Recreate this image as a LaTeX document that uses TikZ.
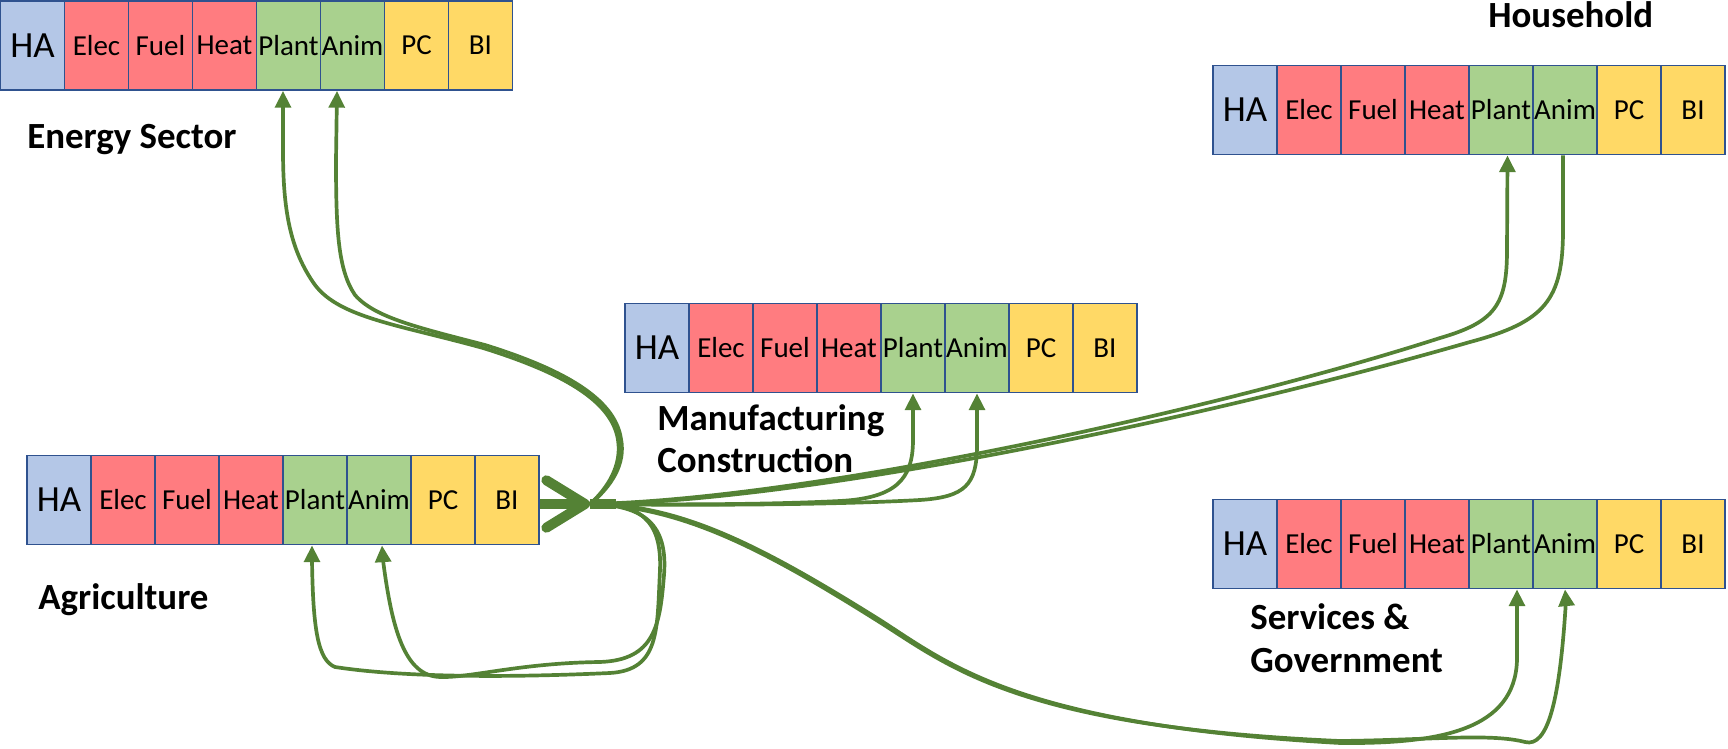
\documentclass[tikz,border=0pt]{standalone}
\usepackage{fontspec}
\setmainfont{Carlito}
\usepackage{tikz}
\usetikzlibrary{arrows.meta}
\definecolor{haBlue}{HTML}{B4C7E7}
\definecolor{enRed}{HTML}{FF7C80}
\definecolor{bioGreen}{HTML}{A9D18E}
\definecolor{resYellow}{HTML}{FFD966}
\definecolor{cellEdge}{HTML}{2F528F}
\definecolor{flowGreen}{HTML}{548235}

% one row of eight cells, #1 prefix, #2 left edge, #3 middle
\newcommand{\sectorrow}[3]{%
  \foreach \cn/\cs [count=\i from 0] in {HA/hacell,Elec/encell,Fuel/encell,Heat/encell,Plant/biocell,Anim/biocell,PC/rescell,BI/rescell}
    \node[\cs] (#1\cn) at ({#2+32+64*\i},#3) {\cn};
}

\begin{document}
\begin{tikzpicture}[x=0.02cm, y=-0.02cm,
    cell/.style={draw=cellEdge, line width=1.1pt, minimum width=1.28cm, minimum height=1.78cm,
      inner sep=0pt, font=\fontsize{16.5}{17}\selectfont},
    hacell/.style={cell, fill=haBlue, font=\fontsize{21}{22}\selectfont},
    encell/.style={cell, fill=enRed},
    biocell/.style={cell, fill=bioGreen},
    rescell/.style={cell, fill=resYellow},
    sector/.style={font=\bfseries\fontsize{21}{24}\selectfont, inner sep=0pt, align=left},
    flowline/.style={flowGreen, line width=2.1pt},
    flow/.style={flowline, -{Triangle[length=9.5pt,width=9pt]}}]
        \useasboundingbox (0,0) rectangle (1728,749);
        % Energy sector
        \sectorrow{ener}{0.5}{45.5}
        \node[sector, anchor=base west] (enerName) at (27,149) {Energy Sector};
        % Household
        \sectorrow{house}{1213}{110}
        \node[sector, anchor=base west] (houseName) at (1488,28) {Household};
        % Manufacturing
        \sectorrow{manu}{625}{348}
        \node[sector, anchor=base west] (manuName) at (657,473) {Manufacturing\\Construction};
        % Agriculture
        \sectorrow{agri}{27}{500}
        \node[sector, anchor=base west] (agriName) at (38,610) {Agriculture};
        % Services
        \sectorrow{serv}{1213}{544}
        \node[sector, anchor=base west] (servName) at (1250,672) {Services \&\\Government};

        % big arrow out of agriculture
        \coordinate (hub) at (590,504);
        \coordinate (fan) at (616,504);
        \draw[flowGreen, line width=5.7pt, -{Straight Barb[length=22pt,width=27pt,round]}] (agriBI.east |- hub) -- (hub);
        \draw[flowGreen, line width=5.7pt] (hub) -- (fan);

        % to energy sector
        \draw[flow] (hub) .. controls (608,488) and (622,465) .. (618,440) .. controls (612,400) and (560,372) .. (483,348)
            .. controls (400,325) and (340,318) .. (315,285) .. controls (290,250) and (283,210) .. (283,150) -- ([xshift=-0.11cm]enerPlant.south);
        \draw[flow] (hub) .. controls (611,487) and (626,464) .. (621,439) .. controls (615,398) and (562,369) .. (485,345)
            .. controls (420,328) and (375,318) .. (355,295) .. controls (338,270) and (336,230) .. (336,160) -- ([xshift=-0.31cm]enerAnim.south);
        % to manufacturing
        \draw[flow] (hub) .. controls (700,505) and (780,504) .. (840,501) .. controls (895,498) and (913,480) .. (913,440) -- (manuPlant.south);
        \draw[flow] (hub) .. controls (720,506) and (850,504) .. (920,500) .. controls (965,497) and (977,485) .. (977,445) -- (manuAnim.south);
        % to household
        \draw[flow] (hub) .. controls (800,500) and (1200,415) .. (1440,338) .. controls (1495,322) and (1507,305) .. (1507,250) -- ([xshift=0.13cm]housePlant.south);
        \draw[flowline] (hub) .. controls (800,503) and (1200,420) .. (1470,342) .. controls (1545,322) and (1563,300) .. (1563,230) -- ([xshift=-0.04cm]houseAnim.south);
        % to services
        \draw[flow] (hub) .. controls (680,504) and (760,545) .. (880,620) .. controls (950,665) and (1020,725) .. (1340,743)
            .. controls (1440,744) and (1515,730) .. (1517,660) -- ([xshift=0.32cm]servPlant.south);
        \draw[flow] (hub) .. controls (682,507) and (762,548) .. (881,623) .. controls (952,668) and (1022,727) .. (1340,741)
            .. controls (1430,740) and (1490,733) .. (1525,742) .. controls (1548,748) and (1560,700) .. (1566,600) -- (servAnim.south);
        % back to agriculture
        \draw[flow] (hub) .. controls (640,503) and (662,520) .. (660,570) .. controls (657,630) and (660,670) .. (610,673)
            .. controls (500,678) and (400,677) .. (335,667) .. controls (318,660) and (313,630) .. (312,560) -- ([xshift=-0.06cm]agriPlant.south);
        \draw[flow] (hub) .. controls (645,505) and (668,525) .. (664,575) .. controls (660,625) and (655,660) .. (600,662)
            .. controls (520,663) and (470,678) .. (440,677) .. controls (405,676) and (392,630) .. (383,560) -- ([xshift=0.06cm]agriAnim.south);
    \end{tikzpicture}
\end{document}
